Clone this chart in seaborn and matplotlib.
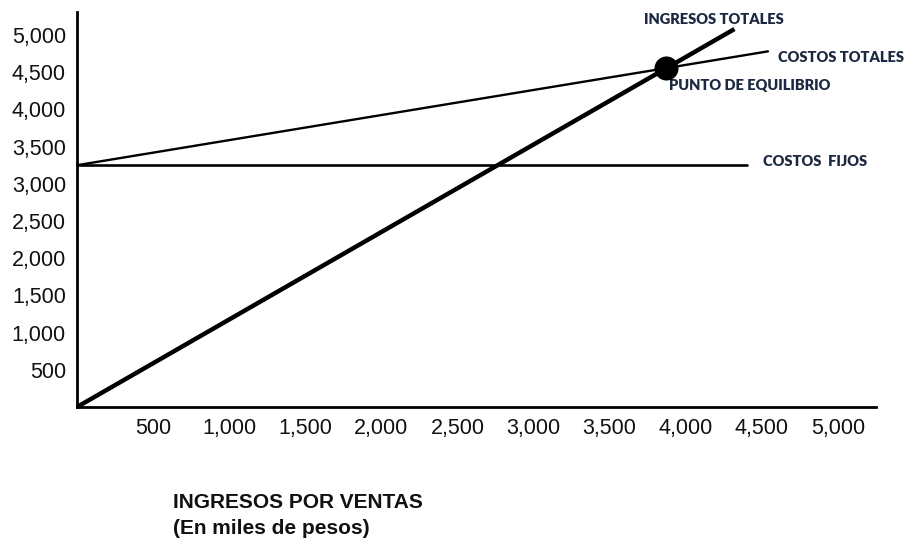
import matplotlib
matplotlib.use("Agg")
import matplotlib.pyplot as plt
import seaborn as sns
import pandas as pd

# Break-even chart data (sales revenue vs. costs, thousands of pesos)
ventas_ingresos = [0, 4320]
ingresos_totales = [0, 5080]

ventas_costos = [0, 4540]
costos_totales = [3250, 4780]

ventas_fijos = [0, 4400]
costos_fijos = [3250, 3250]

equilibrio_x = [3870]
equilibrio_y = [4550]

x_ticks = [500, 1000, 1500, 2000, 2500, 3000, 3500, 4000, 4500, 5000]
y_ticks = [500, 1000, 1500, 2000, 2500, 3000, 3500, 4000, 4500, 5000]

sns.set_theme(style="white")
plt.rcParams["font.family"] = ["Liberation Sans", "DejaVu Sans"]

fig = plt.figure(figsize=(9.08, 5.52), dpi=100)
ax = fig.add_axes([77 / 908, 145 / 552, 799 / 908, 395 / 552])

df_ing = pd.DataFrame({"x": ventas_ingresos, "y": ingresos_totales})
df_ct = pd.DataFrame({"x": ventas_costos, "y": costos_totales})
df_cf = pd.DataFrame({"x": ventas_fijos, "y": costos_fijos})
df_eq = pd.DataFrame({"x": equilibrio_x, "y": equilibrio_y})

sns.lineplot(data=df_cf, x="x", y="y", ax=ax, color="black", lw=1.9,
             sort=False, clip_on=False)
sns.lineplot(data=df_ct, x="x", y="y", ax=ax, color="black", lw=1.7,
             sort=False, clip_on=False)
sns.lineplot(data=df_ing, x="x", y="y", ax=ax, color="black", lw=3.2,
             sort=False, clip_on=False, solid_capstyle="butt")
sns.scatterplot(data=df_eq, x="x", y="y", ax=ax, color="black", s=300,
                edgecolor="black", linewidth=0, zorder=5, clip_on=False)

ax.set_xlim(0, 5250)
ax.set_ylim(0, 5309)
ax.set_xticks(x_ticks)
ax.set_yticks(y_ticks)
ax.set_xticklabels([f"{v:,}" for v in x_ticks])
ax.set_yticklabels([f"{v:,}" for v in y_ticks])
ax.tick_params(axis="both", length=0, labelsize=15.5, colors="#111111", pad=8)
ax.set_xlabel("")
ax.set_ylabel("")

for side in ("top", "right"):
    ax.spines[side].set_visible(False)
for side in ("left", "bottom"):
    ax.spines[side].set_color("black")
    ax.spines[side].set_linewidth(2.0)

navy = "#1c2841"
lbl = dict(color=navy, fontsize=10.5, fontweight="heavy",
           family=["Lato", "DejaVu Sans"], va="center", clip_on=False)
ax.text(4185, 5202, "INGRESOS TOTALES", ha="center", **lbl)
ax.text(4606, 4704, "COSTOS TOTALES", ha="left", **lbl)
ax.text(3890, 4315, "PUNTO DE EQUILIBRIO", ha="left", **lbl)
ax.text(4507, 3293, "COSTOS  FIJOS", ha="left", **lbl)

fig.text(173 / 908, 1 - 502 / 552, "INGRESOS POR VENTAS", ha="left",
         va="center", fontsize=15, fontweight="bold", color="#111111")
fig.text(173 / 908, 1 - 528 / 552, "(En miles de pesos)", ha="left",
         va="center", fontsize=15, fontweight="bold", color="#111111")

fig.savefig("out.png", dpi=100, facecolor="white")
